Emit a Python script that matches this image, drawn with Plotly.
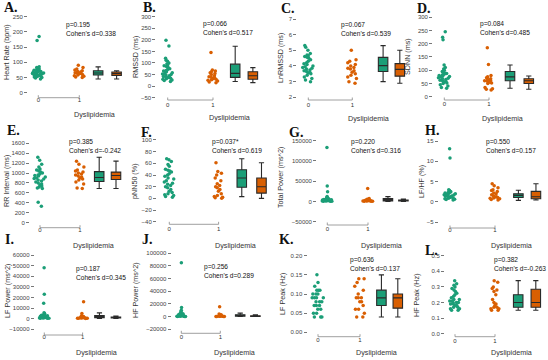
import plotly.graph_objects as go

GREEN = "#1b9e77"
ORANGE = "#d95f02"
W, H = 548, 360

# ---------------- data ----------------
letters = ["A.", "B.", "C.", "D.", "E.", "F.", "G.", "H.", "I.", "J.", "K.", "L."]
y_titles = ["Heart Rate (bpm)", "RMSSD (ms)", "LnRMSSD (ms)", "SDNN (ms)",
            "RR Interval (ms)", "pNN50 (%)", "Total Power (ms^2)", "LF/HF (%)",
            "LF Power (ms^2)", "HF Power (ms^2)", "LF Peak (Hz)", "HF Peak (Hz)"]
p_values = ["p=0.195", "p=0.066", "p=0.067", "p=0.084", "p=0.385", "p=0.037*",
            "p=0.220", "p=0.550", "p=0.187", "p=0.256", "p=0.636", "p=0.382"]
cohens_d = ["Cohen's d=0.338", "Cohen's d=0.517", "Cohen's d=0.539", "Cohen's d=0.485",
            "Cohen's d=-0.242", "Cohen's d=0.619", "Cohen's d=0.316", "Cohen's d=0.157",
            "Cohen's d=0.345", "Cohen's d=0.289", "Cohen's d=0.137", "Cohen's d=-0.263"]
x_label = "Dyslipidemia"
group_ticks = ["0", "1"]

hr_0 = [185, 172, 85, 83, 82, 80, 78, 76, 75, 74, 72, 71, 70, 69, 68, 67, 66, 65, 64, 63,
        62, 61, 60, 59, 58, 57, 56, 55, 53, 52, 50, 48, 45]
hr_1 = [90, 83, 78, 75, 72, 70, 68, 66, 65, 63, 62, 60, 58, 56, 54, 52, 50]
rmssd_0 = [198, 173, 120, 112, 108, 100, 96, 92, 88, 85, 80, 75, 72, 68, 65, 62, 58, 55, 52,
           50, 48, 45, 42, 40, 38, 36, 34, 32, 30, 27, 24, 20]
rmssd_1 = [145, 70, 65, 62, 58, 55, 50, 45, 40, 38, 35, 32, 30, 28, 25, 22, 18, 15]
lnrmssd_0 = [5.3, 5.2, 5.0, 4.8, 4.7, 4.65, 4.6, 4.55, 4.5, 4.4, 4.3, 4.2, 4.15, 4.1, 4.0,
             3.95, 3.9, 3.85, 3.8, 3.75, 3.7, 3.65, 3.6, 3.55, 3.5, 3.4, 3.3, 3.2, 3.1, 3.0]
lnrmssd_1 = [5.0, 4.4, 4.3, 4.2, 4.1, 4.0, 3.9, 3.85, 3.8, 3.7, 3.6, 3.5, 3.4, 3.3, 3.2, 3.0, 2.9]
sdnn_0 = [245, 225, 215, 120, 110, 105, 100, 95, 92, 90, 88, 85, 82, 80, 78, 76, 74, 72, 70,
          68, 65, 62, 60, 58, 55, 52, 50, 45, 40, 35, 32]
sdnn_1 = [185, 122, 80, 75, 72, 68, 65, 62, 60, 58, 56, 55, 52, 50, 35, 30, 28, 25]
rr_0 = [1320, 1260, 1180, 1120, 1080, 1060, 1040, 1020, 1000, 980, 960, 950, 940, 920, 900,
        890, 880, 860, 840, 820, 800, 780, 760, 740, 720, 700, 690, 410, 330]
rr_1 = [1240, 1180, 1120, 1060, 1040, 1020, 1000, 980, 960, 940, 920, 900, 880, 860, 820,
        780, 700, 690]
pnn50_0 = [68, 66, 63, 58, 55, 50, 48, 47, 45, 42, 40, 38, 35, 33, 30, 28, 26, 24, 22, 20,
           18, 15, 12, 10, 8, 6, 5, 3, 2]
pnn50_1 = [61, 46, 43, 40, 35, 30, 25, 22, 20, 18, 15, 12, 8, 5, 3, 2, 1, 0]
tp_0 = [133000, 38000, 24000, 12000, 10000, 9000, 8000, 7000, 6500, 6000, 5500, 5000, 4500,
        4000, 3800, 3500, 3200, 3000, 2800, 2500, 2200, 2000, 1800, 1500, 1200, 1000, 800,
        600, 400]
tp_1 = [32000, 7000, 5500, 4500, 4000, 3500, 3000, 2500, 2200, 2000, 1800, 1500, 1200, 1000,
        800, 600, 400]
lfhf_0 = [13.1, 10.8, 3.0, 2.8, 2.6, 2.5, 2.4, 2.3, 2.2, 2.1, 2.0, 1.9, 1.8, 1.7, 1.6, 1.5,
          1.4, 1.3, 1.2, 1.1, 1.0, 0.9, 0.8, 0.7, 0.6, 0.5]
lfhf_1 = [4.5, 4.0, 3.5, 3.0, 2.8, 2.6, 2.2, 2.0, 1.8, 1.5, 1.3, 1.2, 1.1, 1.0, 0.9, 0.8, 0.6, 0.5]
lfp_0 = [48000, 23000, 14500, 5500, 5000, 4500, 4000, 3500, 3200, 3000, 2800, 2500, 2200, 2000,
         1800, 1600, 1400, 1200, 1000, 900, 800, 700, 600, 500, 400, 300]
lfp_1 = [16000, 5000, 2500, 2000, 1800, 1500, 1200, 1000, 900, 800, 700, 600, 500, 400, 300, 200]
hfp_0 = [85000, 14500, 10000, 8000, 6000, 5000, 4500, 4000, 3500, 3000, 2500, 2000, 1800, 1500,
         1200, 1000, 800, 600, 500, 400, 300, 200]
hfp_1 = [15500, 4000, 3000, 2500, 2000, 1500, 1200, 1000, 800, 600, 500, 400, 300, 200, 100]
lfpk_0 = [0.15, 0.13, 0.12, 0.11, 0.11, 0.11, 0.10, 0.10, 0.10, 0.09, 0.09, 0.09, 0.09, 0.08,
          0.08, 0.08, 0.07, 0.07, 0.07, 0.06, 0.06, 0.05, 0.05, 0.04, 0.04, 0.04]
lfpk_1 = [0.14, 0.14, 0.13, 0.12, 0.11, 0.10, 0.09, 0.09, 0.09, 0.08, 0.08, 0.07, 0.06, 0.06,
          0.05, 0.04, 0.04]
hfpk_0 = [0.34, 0.32, 0.31, 0.30, 0.29, 0.28, 0.27, 0.26, 0.25, 0.24, 0.23, 0.22, 0.22, 0.21,
          0.21, 0.20, 0.20, 0.20, 0.19, 0.19, 0.18, 0.18, 0.17, 0.17, 0.16, 0.16, 0.15, 0.15]
hfpk_1 = [0.34, 0.33, 0.30, 0.29, 0.28, 0.27, 0.25, 0.22, 0.20, 0.19, 0.18, 0.17, 0.17, 0.16,
          0.16, 0.15, 0.15]

# box statistics: [lower whisker, Q1, median, Q3, upper whisker]
box_0 = [[45, 58, 65, 72, 85], [20, 38, 55, 95, 172], [3.0, 3.65, 4.02, 4.55, 5.3],
         [32, 60, 75, 95, 120], [690, 830, 910, 1030, 1320], [3, 19, 35, 49, 68],
         [0, 1500, 4000, 7000, 12000], [0.4, 1.1, 1.6, 2.0, 2.9], [300, 1000, 2000, 3000, 5500],
         [200, 800, 1500, 3000, 5500], [0.04, 0.07, 0.09, 0.11, 0.15],
         [0.15, 0.17, 0.20, 0.25, 0.34]]
box_1 = [[45, 57, 63, 68, 72], [15, 30, 45, 62, 80], [2.9, 3.35, 3.78, 4.15, 5.0],
         [28, 50, 60, 68, 78], [690, 870, 950, 1020, 1240], [0, 9, 20, 35, 61],
         [300, 1000, 2000, 3500, 6000], [0.5, 0.8, 1.3, 2.6, 4.5], [200, 600, 1000, 1500, 2500],
         [100, 400, 800, 1500, 3000], [0.04, 0.063, 0.09, 0.10, 0.14],
         [0.15, 0.17, 0.20, 0.285, 0.34]]

group0 = [hr_0, rmssd_0, lnrmssd_0, sdnn_0, rr_0, pnn50_0, tp_0, lfhf_0, lfp_0, hfp_0, lfpk_0, hfpk_0]
group1 = [hr_1, rmssd_1, lnrmssd_1, sdnn_1, rr_1, pnn50_1, tp_1, lfhf_1, lfp_1, hfp_1, lfpk_1, hfpk_1]

# ---------------- geometry (pixels) ----------------
geom = [
    dict(t0=38.3, u=41.0, top=(250, 16.7), bot=(0, 92.7), dt=50, fmt="d", bp=(1.46, 1.91)),
    dict(t0=167.7, u=45.3, top=(300, 16.7), bot=(-50, 97.7), dt=50, fmt="d", bp=(1.49, 1.88)),
    dict(t0=308.3, u=44.0, top=(7, 19.0), bot=(2, 97.3), dt=1, fmt="d", bp=(1.70, 2.08)),
    dict(t0=444.3, u=44.7, top=(300, 17.3), bot=(0, 96.7), dt=50, fmt="d", bp=(1.47, 1.89)),
    dict(t0=40.0, u=40.0, top=(1600, 143.3), bot=(0, 222.7), dt=200, fmt="d", bp=(1.48, 1.90)),
    dict(t0=169.3, u=49.3, top=(100, 140.0), bot=(-40, 221.7), dt=20, fmt="d", bp=(1.47, 1.87)),
    dict(t0=327.3, u=40.7, top=(150000, 140.7), bot=(-50000, 221.7), dt=50000, fmt="d", bp=(1.49, 1.87)),
    dict(t0=450.0, u=45.0, top=(15, 141.0), bot=(-5, 222.3), dt=5, fmt="d", bp=(1.52, 1.91)),
    dict(t0=44.3, u=38.3, top=(60000, 255.0), bot=(-10000, 329.3), dt=10000, fmt="d", bp=(1.44, 1.87)),
    dict(t0=181.3, u=39.0, top=(100000, 253.3), bot=(-20000, 329.3), dt=20000, fmt="d", bp=(1.51, 1.90)),
    dict(t0=318.0, u=42.0, top=(0.20, 255.7), bot=(0.00, 332.3), dt=0.05, fmt=".2f", bp=(1.51, 1.90)),
    dict(t0=455.0, u=40.0, top=(0.5, 255.7), bot=(0.0, 333.7), dt=0.1, fmt=".1f", bp=(1.58, 2.02)),
]
xline_px = [97.7, 100, 100, 100, 227.7, 224.3, 225, 228, 335, 333.3, 336.7, 336.7]
letter_pos = [(2, 7), (141, 7), (279, 8), (415, 8), (5, 130), (139, 132), (287, 132),
              (423, 130), (3, 239), (140, 239), (277, 239), (423, 250)]
ytitle_pos = [(7, 52), (135, 57), (281, 58), (407, 57), (6, 181), (134, 181), (280, 178),
              (421, 182), (7, 291), (135, 290), (282, 294), (416, 295)]
xtitle_pos = [(94, 115), (229, 118), (368, 119), (502, 119), (93, 245), (235, 245),
              (381, 245), (511, 245), (96, 352), (234, 352), (376, 352), (511, 352)]
annot_pos = [(64.3, 22.7), (201.3, 21.7), (339, 22.7), (478.3, 21.7), (66.7, 140), (210.3, 140),
             (349, 140), (484, 140), (74, 266.7), (202, 265), (348, 258.3), (491.7, 258.3)]

XR = (-0.25, 2.3)
fig = go.Figure()
layout = dict(width=W, height=H, margin=dict(l=0, r=0, t=0, b=0, pad=0, autoexpand=False),
              paper_bgcolor="white", plot_bgcolor="rgba(0,0,0,0)",
              showlegend=False, boxmode="overlay",
              font=dict(family="Liberation Sans, Arial, sans-serif", color="#333"))
shapes, annotations = [], []


def px2x(px):
    return px / W


def px2y(px):
    return 1 - px / H


for i in range(12):
    g = geom[i]
    k = i + 1
    xa = "xaxis" if k == 1 else f"xaxis{k}"
    ya = "yaxis" if k == 1 else f"yaxis{k}"
    xr = "x" if k == 1 else f"x{k}"
    yr = "y" if k == 1 else f"y{k}"
    xl = g["t0"] + XR[0] * g["u"]
    xh = min(g["t0"] + XR[1] * g["u"], W - 1)
    xhi = (xh - g["t0"]) / g["u"]
    tv, tp = g["top"]
    bv, bp = g["bot"]
    ppu = (bp - tp) / (tv - bv)
    pad = 0.03 * (tv - bv)
    ytop_px = tp - pad * ppu
    ybot_px = bp + pad * ppu
    layout[xa] = dict(domain=[px2x(xl), px2x(xh)], range=[XR[0], xhi], anchor=yr,
                      automargin=False, showgrid=False, zeroline=False, showline=False,
                      tickvals=[0, 1], ticktext=group_ticks, ticks="",
                      tickfont=dict(size=6, color="#333"))
    layout[ya] = dict(domain=[px2y(ybot_px), px2y(ytop_px)], range=[bv - pad, tv + pad],
                      anchor=xr, automargin=False, showgrid=False, zeroline=False,
                      showline=False, tick0=bv, dtick=g["dt"], tickformat=g["fmt"],
                      ticks="outside", ticklen=3, tickwidth=0.7, tickcolor="#777",
                      tickfont=dict(size=6, color="#444"))

    for j, (vals, col) in enumerate([(group0[i], GREEN), (group1[i], ORANGE)]):
        fig.add_trace(go.Box(y=vals, x0=j, xaxis=xr, yaxis=yr, boxpoints="all", jitter=1,
                             pointpos=0, width=12 / g["u"], fillcolor="rgba(0,0,0,0)",
                             line=dict(width=0, color="rgba(0,0,0,0)"),
                             marker=dict(color=col, size=3.5, line=dict(width=0)),
                             hoverinfo="y"))
    for j, (st, col) in enumerate([(box_0[i], GREEN), (box_1[i], ORANGE)]):
        fig.add_trace(go.Box(x=[g["bp"][j]], xaxis=xr, yaxis=yr,
                             lowerfence=[st[0]], q1=[st[1]], median=[st[2]], q3=[st[3]],
                             upperfence=[st[4]], width=9.5 / g["u"], whiskerwidth=0.55,
                             fillcolor=col, line=dict(color="#2a2a2a", width=1.1),
                             boxpoints=False))

    yl = px2y(xline_px[i])
    yt = px2y(xline_px[i] - 2.5)
    sty = dict(color="#888", width=0.8)
    shapes.append(dict(type="line", xref=xr, yref="paper", x0=0, x1=1, y0=yl, y1=yl, line=sty))
    shapes.append(dict(type="line", xref=xr, yref="paper", x0=0, x1=0, y0=yl, y1=yt, line=sty))
    shapes.append(dict(type="line", xref=xr, yref="paper", x0=1, x1=1, y0=yl, y1=yt, line=sty))

    lx, ly = letter_pos[i]
    annotations.append(dict(text=f"<b>{letters[i]}</b>", x=px2x(lx), y=px2y(ly), xref="paper",
                            yref="paper", xanchor="left", yanchor="middle", showarrow=False,
                            font=dict(family="Liberation Serif, Times New Roman, serif",
                                      size=14, color="#111")))
    tx, ty = ytitle_pos[i]
    annotations.append(dict(text=y_titles[i], x=px2x(tx), y=px2y(ty), xref="paper",
                            yref="paper", xanchor="center", yanchor="middle", textangle=-90,
                            showarrow=False, font=dict(size=7.2, color="#333")))
    qx, qy = xtitle_pos[i]
    annotations.append(dict(text=x_label, x=px2x(qx), y=px2y(qy), xref="paper", yref="paper",
                            xanchor="center", yanchor="middle", showarrow=False,
                            font=dict(size=7.2, color="#333")))
    ax, ay = annot_pos[i]
    annotations.append(dict(text=f"{p_values[i]}<br>{cohens_d[i]}", x=px2x(ax),
                            y=px2y(ay - 4.2), xref="paper", yref="paper", xanchor="left",
                            yanchor="top", align="left", showarrow=False,
                            font=dict(size=6.6, color="#111")))

layout["shapes"] = shapes
layout["annotations"] = annotations
fig.update_layout(**layout)
fig.write_html("out.html", config={"displayModeBar": False},
               post_script="document.body.style.margin='0px';document.body.style.padding='0px';")
